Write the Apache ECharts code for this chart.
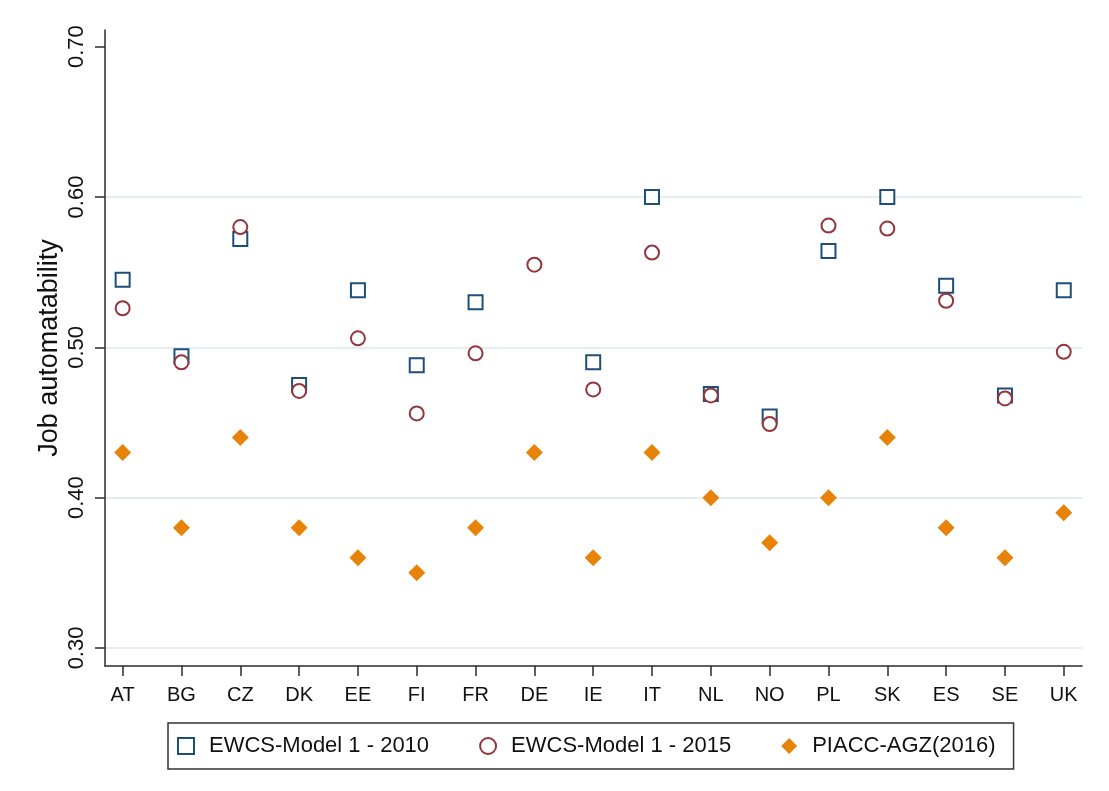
<!DOCTYPE html>
<html>
<head>
<meta charset="utf-8">
<title>Job automatability</title>
<script src="https://cdn.jsdelivr.net/npm/echarts@6/dist/echarts.min.js"></script>
<style>
  html, body { margin: 0; padding: 0; background: #fff; }
  #chart { width: 1109px; height: 791px; }
</style>
</head>
<body>
<div id="chart"></div>
<script>
// country codes along the x axis
const countries = ['AT', 'BG', 'CZ', 'DK', 'EE', 'FI', 'FR', 'DE', 'IE', 'IT', 'NL', 'NO', 'PL', 'SK', 'ES', 'SE', 'UK'];
// EWCS-Model 1 - 2010 (no value for DE)
const ewcs2010 = [0.545, 0.494, 0.572, 0.475, 0.538, 0.488, 0.530, null, 0.490, 0.600, 0.469, 0.454, 0.564, 0.600, 0.541, 0.468, 0.538];
// EWCS-Model 1 - 2015
const ewcs2015 = [0.526, 0.490, 0.580, 0.471, 0.506, 0.456, 0.496, 0.555, 0.472, 0.563, 0.468, 0.449, 0.581, 0.579, 0.531, 0.466, 0.497];
// PIACC-AGZ(2016)
const piacc = [0.43, 0.38, 0.44, 0.38, 0.36, 0.35, 0.38, 0.43, 0.36, 0.43, 0.40, 0.37, 0.40, 0.44, 0.38, 0.36, 0.39];
const yTicks = [0.30, 0.40, 0.50, 0.60, 0.70];
const yGrid = [0.30, 0.40, 0.50, 0.60];

const FONT = 'Liberation Sans, Arial, sans-serif';
const AXIS_COLOR = '#2b2b2b';

function toPoints(values) {
    const pts = [];
    values.forEach((v, i) => {
        if (v !== null) pts.push([i, v]);
    });
    return pts;
}

const chart = echarts.init(document.getElementById('chart'), null, { renderer: 'canvas' });

chart.setOption({
    animation: false,
    backgroundColor: '#fff',
    textStyle: { fontFamily: FONT },
    grid: {
        left: 105,
        right: 27,
        top: 30,
        bottom: 125,
        outerBoundsMode: 'none',
    },
    legend: {
        left: 168,
        top: 723,
        padding: [12, 18, 12, 9],
        itemGap: 50,
        itemWidth: 16,
        itemHeight: 16,
        borderColor: '#333',
        borderWidth: 1.5,
        itemStyle: { borderWidth: 2 },
        formatter: (name) => '{g|}' + name,
        textStyle: {
            fontFamily: FONT,
            fontSize: 22,
            color: '#111',
            rich: { g: { width: 10 } },
        },
        data: ['EWCS-Model 1 - 2010', 'EWCS-Model 1 - 2015', 'PIACC-AGZ(2016)'],
    },
    xAxis: {
        type: 'value',
        min: -0.3,
        max: 16.31,
        axisLine: { onZero: false, lineStyle: { color: AXIS_COLOR, width: 1.5 } },
        axisTick: {
            show: true,
            length: 10,
            customValues: countries.map((c, i) => i),
            lineStyle: { color: AXIS_COLOR, width: 1.5 },
        },
        axisLabel: {
            customValues: countries.map((c, i) => i),
            formatter: (v) => countries[Math.round(v)] || '',
            fontSize: 20,
            color: '#111',
            margin: 19,
        },
        splitLine: { show: false },
    },
    yAxis: {
        type: 'value',
        min: 0.288,
        max: 0.7111,
        name: 'Job automatability',
        nameLocation: 'middle',
        nameGap: 42,
        nameMoveOverlap: false,
        nameTextStyle: { fontSize: 27, color: '#111', fontFamily: FONT },
        axisLine: { show: true, onZero: false, lineStyle: { color: AXIS_COLOR, width: 1.5 } },
        axisTick: {
            show: true,
            length: 10,
            customValues: yTicks,
            lineStyle: { color: AXIS_COLOR, width: 1.5 },
        },
        axisLabel: {
            customValues: yTicks,
            rotate: 90,
            formatter: (v) => v.toFixed(2),
            fontSize: 22,
            color: '#111',
            margin: 17,
        },
        splitLine: { show: false },
    },
    series: [
        {
            name: 'grid',
            type: 'scatter',
            data: [],
            z: 0,
            silent: true,
            markLine: {
                silent: true,
                z: 0,
                symbol: ['none', 'none'],
                label: { show: false },
                lineStyle: { color: '#e4edf0', width: 2, type: 'solid' },
                data: yGrid.map((v) => ({ yAxis: v })),
            },
        },
        {
            name: 'EWCS-Model 1 - 2010',
            type: 'scatter',
            symbol: 'emptyRect',
            symbolSize: 14,
            itemStyle: { color: '#1f4e79', borderWidth: 2, opacity: 1 },
            data: toPoints(ewcs2010),
        },
        {
            name: 'EWCS-Model 1 - 2015',
            type: 'scatter',
            symbol: 'emptyCircle',
            symbolSize: 14,
            itemStyle: { color: '#93353d', borderWidth: 2, opacity: 1 },
            data: toPoints(ewcs2015),
        },
        {
            name: 'PIACC-AGZ(2016)',
            type: 'scatter',
            symbol: 'diamond',
            symbolSize: 17,
            itemStyle: { color: '#e8830a', opacity: 1 },
            data: toPoints(piacc),
        },
    ],
});
</script>
</body>
</html>
